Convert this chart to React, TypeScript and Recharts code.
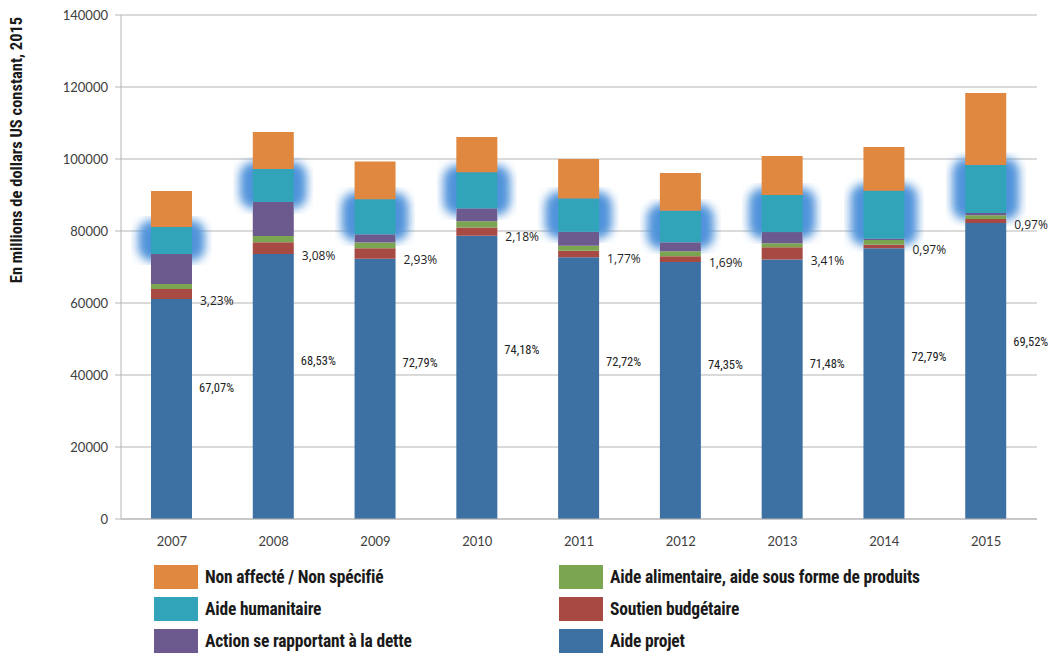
import { Bar, BarChart, CartesianGrid, LabelList, Legend, XAxis, YAxis } from "recharts";

const years = ["2007", "2008", "2009", "2010", "2011", "2012", "2013", "2014", "2015"];
const aideProjet = [61100, 73600, 72300, 78700, 72700, 71400, 72100, 75200, 82200];
const soutienBudgetaire = [2800, 3300, 2900, 2300, 1800, 1600, 3400, 1000, 1100];
const aideAlimentaire = [1400, 1700, 1600, 1700, 1400, 1400, 1100, 1300, 1100];
const actionDette = [8300, 9500, 2300, 3600, 3900, 2500, 3100, 400, 600];
const aideHumanitaire = [7500, 9100, 9700, 10000, 9200, 8700, 10300, 13300, 13300];
const nonAffecte = [10000, 10300, 10500, 9800, 11000, 10500, 10800, 12100, 20000];
const projetPct = ["67,07%", "68,53%", "72,79%", "74,18%", "72,72%", "74,35%", "71,48%", "72,79%", "69,52%"];
const budgetPct = ["3,23%", "3,08%", "2,93%", "2,18%", "1,77%", "1,69%", "3,41%", "0,97%", "0,97%"];
const yTicks = [0, 20000, 40000, 60000, 80000, 100000, 120000, 140000];

const data = years.map((year, i) => ({
  year,
  projet: aideProjet[i],
  budget: soutienBudgetaire[i],
  alim: aideAlimentaire[i],
  dette: actionDette[i],
  huma: aideHumanitaire[i],
  nonAff: nonAffecte[i],
  projetPct: projetPct[i],
  budgetPct: budgetPct[i],
}));

// legend is read row by row, two columns
const legendItems = [
  { name: "Non affecté / Non spécifié", color: "#E0883F" },
  { name: "Aide alimentaire, aide sous forme de produits", color: "#7CA552" },
  { name: "Aide humanitaire", color: "#31A4B9" },
  { name: "Soutien budgétaire", color: "#A84A44" },
  { name: "Action se rapportant à la dette", color: "#6C5A8F" },
  { name: "Aide projet", color: "#3E71A3" },
];

const condensed = "'Liberation Sans Narrow', 'Roboto Condensed', 'DejaVu Sans Condensed', Roboto, sans-serif";

function GlowBar(props: any) {
  const { x, y, width, height, fill, index } = props;
  const id = `glowmask-${index}`;
  return (
    <g>
      <mask id={id}>
        <rect x={x - 60} y={y - 60} width={width + 120} height={height + 120} fill="white" />
        <rect x={x} y={y + height} width={width} height={80} fill="black" />
      </mask>
      <g mask={`url(#${id})`}>
        <rect
          x={x - 13}
          y={y - 7}
          width={width + 26}
          height={height + 14}
          rx={14}
          fill="#4F93DA"
          filter="url(#glowBlur)"
        />
      </g>
      <rect x={x} y={y} width={width} height={height} fill={fill} />
    </g>
  );
}

function LegendGrid() {
  return (
    <div
      style={{
        display: "grid",
        gridTemplateColumns: "405px 440px",
        rowGap: 8,
        paddingLeft: 154,
        paddingTop: 16,
        fontFamily: condensed,
        fontWeight: 700,
        fontSize: 17.5,
        color: "#1a1a1a",
        textAlign: "left",
      }}
    >
      {legendItems.map((item) => (
        <div key={item.name} style={{ display: "flex", alignItems: "center", height: 24 }}>
          <span style={{ width: 44, height: 24, background: item.color, marginRight: 7, flex: "none" }} />
          <span style={{ letterSpacing: -0.2 }}>{item.name}</span>
        </div>
      ))}
    </div>
  );
}

function YTitle() {
  return (
    <text
      x={16}
      y={150}
      transform="rotate(-90 16 150)"
      textAnchor="middle"
      dominantBaseline="central"
      fontFamily={condensed}
      fontWeight={700}
      fontSize={16.5}
      fill="#1a1a1a"
    >
      En millions de dollars US constant, 2015
    </text>
  );
}

export default function App() {
  return (
    <div style={{ width: 1052, height: 657, background: "#fff", position: "relative" }}>
      <style>{`body{margin:0}`}</style>
      <BarChart
        width={1052}
        height={657}
        data={data}
        barSize={41}
        margin={{ top: 15, right: 15, bottom: 0, left: 61 }}
      >
        <defs>
          <filter id="glowBlur" x="-60%" y="-60%" width="220%" height="220%">
            <feGaussianBlur stdDeviation="5" />
          </filter>
        </defs>
        <CartesianGrid vertical={false} stroke="#b5b5b5" />
        <XAxis
          dataKey="year"
          tickLine={false}
          axisLine={{ stroke: "#b5b5b5" }}
          tickMargin={12}
          height={30}
          tick={{ fill: "#404040", fontSize: 13, fontFamily: "Lato, sans-serif" }}
        />
        <YAxis
          width={60}
          domain={[0, 140000]}
          ticks={yTicks}
          interval={0}
          tickSize={6}
          tickMargin={7}
          axisLine={{ stroke: "#b5b5b5" }}
          tickLine={{ stroke: "#b5b5b5" }}
          tick={{ fill: "#404040", fontSize: 13, fontFamily: "Lato, sans-serif" }}
        />
        <Legend
          verticalAlign="bottom"
          height={108}
          wrapperStyle={{ left: 0, width: 1052 }}
          content={() => <LegendGrid />}
        />
        <Bar dataKey="projet" stackId="a" fill="#3E71A3" isAnimationActive={false}>
          <LabelList
            dataKey="projetPct"
            content={(p: any) => (
              <text
                x={p.x + p.width + 7}
                y={p.y + p.height * 0.4}
                fontFamily={condensed}
                fontSize={12.5}
                fill="#222"
                dominantBaseline="central"
              >
                {p.value}
              </text>
            )}
          />
        </Bar>
        <Bar dataKey="budget" stackId="a" fill="#A84A44" isAnimationActive={false}>
          <LabelList
            dataKey="budgetPct"
            content={(p: any) => (
              <text
                x={p.x + p.width + 8}
                y={p.y + p.height + 1}
                fontFamily="'Open Sans', sans-serif"
                fontSize={12}
                fill="#222"
                dominantBaseline="central"
              >
                {p.value}
              </text>
            )}
          />
        </Bar>
        <Bar dataKey="alim" stackId="a" fill="#7CA552" isAnimationActive={false} />
        <Bar dataKey="dette" stackId="a" fill="#6C5A8F" isAnimationActive={false} />
        <Bar dataKey="huma" stackId="a" fill="#31A4B9" shape={GlowBar} isAnimationActive={false} />
        <Bar dataKey="nonAff" stackId="a" fill="#E0883F" isAnimationActive={false} />
        <YTitle />
      </BarChart>
    </div>
  );
}
